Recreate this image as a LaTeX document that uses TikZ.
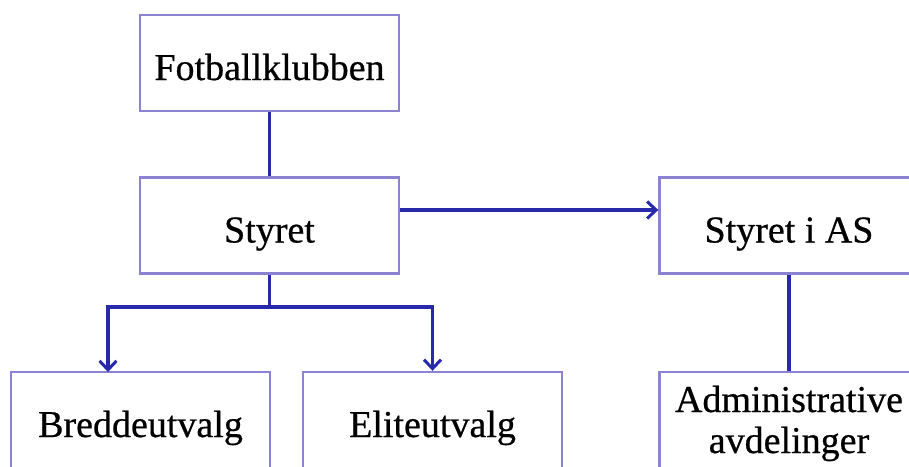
\documentclass[tikz,border=0pt]{standalone}
\usepackage{fontspec}
\setmainfont{Liberation Serif}[FakeBold=0.6]
\usetikzlibrary{arrows.meta}
\definecolor{boxline}{RGB}{140,130,210}
\definecolor{conn}{RGB}{40,40,170}
\newcommand{\boxtxt}[1]{\raisebox{-17pt}[0pt][0pt]{#1}}
\begin{document}
\begin{tikzpicture}[x=1pt,y=-1pt,
  orgbox/.style={draw=boxline,line width=2.4pt,fill=white,minimum width=259pt,minimum height=96pt,inner sep=0pt,font=\fontsize{38}{41}\selectfont,align=center},
  link/.style={draw=conn,line width=3.4pt},
  arr/.style={link,-{Straight Barb[length=9pt,width=17pt,line width=3pt]}}]
\useasboundingbox (0,0) rectangle (909,466);
\clip (0,0) rectangle (909,466);
\node[orgbox] (fk) at (269.5,63) {\boxtxt{Fotballklubben}};
\node[orgbox] (st) at (269.5,225.5) {\boxtxt{Styret}};
\node[orgbox] (sas) at (789,225.5) {\boxtxt{Styret i AS}};
\node[orgbox] (bu) at (140.5,420) {\boxtxt{Breddeutvalg}};
\node[orgbox] (eu) at (432.5,420) {\boxtxt{Eliteutvalg}};
\node[orgbox] (ad) at (789,420) {\raisebox{-33pt}[0pt][0pt]{\begin{tabular}[b]{@{}c@{}}Administrative\\avdelinger\end{tabular}}};
\coordinate (split) at (269.5,307);
\coordinate (buin) at (108,372);
\draw[link] (fk.south) -- (st.north);
\draw[arr] (st.east |- 0,210) -- (sas.west |- 0,210);
\draw[link] (st.south) -- (split);
\draw[arr] (split) -| (buin);
\draw[arr] (split) -| (eu.north);
\draw[link] (sas.south) -- (ad.north);
\end{tikzpicture}
\end{document}
